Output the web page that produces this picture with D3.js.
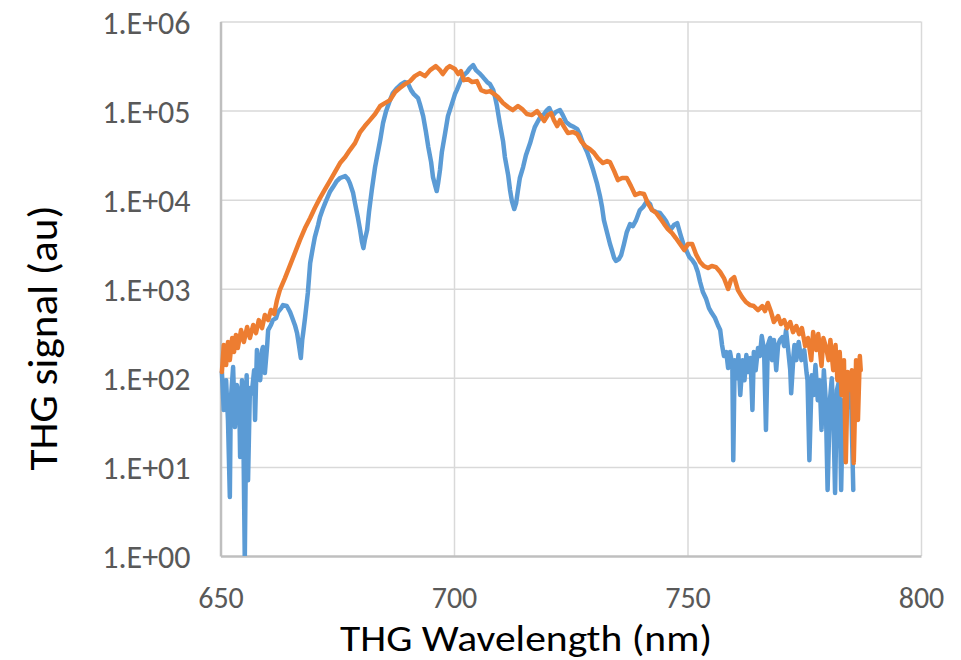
<!DOCTYPE html>
<html>
<head>
<meta charset="utf-8">
<script src="https://cdn.jsdelivr.net/npm/d3@7/dist/d3.min.js"></script>
<style>
  body { margin: 0; background: #fff; }
  svg text { font-family: Carlito, Calibri, Lato, sans-serif; }
</style>
</head>
<body>
<svg id="chart"></svg>
<script>
const xTicks = [650, 700, 750, 800];
const yTicks = [1, 10, 100, 1e3, 1e4, 1e5, 1e6];
const yTickLabels = ['1.E+00', '1.E+01', '1.E+02', '1.E+03', '1.E+04', '1.E+05', '1.E+06'];
const xTitle = 'THG Wavelength (nm)';
const yTitle = 'THG signal (au)';

// blue series
const blueWavelength = [
  650.3, 650.7, 651.2, 651.6, 652.0, 652.2, 652.7, 653.1, 653.5, 654.0, 654.2, 654.6, 654.8, 655.2, 655.6, 655.9,
  656.3, 656.7, 657.2, 657.4, 657.8, 658.2, 658.5, 658.9, 659.1, 659.5, 660.0, 660.2, 660.8, 661.2, 661.9, 662.3,
  663.0, 663.4, 664.2, 664.9, 665.3, 666.0, 666.4, 666.8, 667.2, 667.5, 667.7, 668.1, 668.7, 669.2, 669.8, 670.2,
  670.9, 671.3, 671.9, 672.4, 673.4, 674.1, 674.9, 675.6, 676.7, 677.3, 677.7, 678.4, 678.8, 679.4, 679.9, 680.3,
  680.6, 680.9, 681.4, 681.8, 682.4, 683.1, 683.5, 684.2, 684.8, 685.4, 686.3, 686.9, 687.8, 688.7, 689.5, 690.1,
  690.8, 691.4, 692.3, 692.7, 693.4, 694.0, 694.5, 695.1, 695.5, 696.0, 696.3, 696.6, 697.0, 697.4, 698.1, 698.7,
  699.6, 700.2, 700.6, 701.3, 701.9, 702.8, 703.4, 704.1, 704.7, 705.4, 706.2, 707.1, 707.7, 708.4, 708.8, 709.2,
  709.8, 710.5, 710.9, 711.6, 712.0, 712.4, 712.9, 713.3, 713.7, 714.1, 714.8, 715.4, 716.3, 716.9, 717.3, 718.0,
  718.6, 719.3, 719.9, 720.4, 720.8, 721.2, 721.8, 722.7, 723.3, 724.0, 724.8, 725.7, 726.4, 727.0, 727.6, 728.5,
  729.1, 729.8, 730.6, 731.3, 731.7, 732.1, 732.8, 733.4, 733.8, 734.3, 734.7, 735.3, 735.8, 736.4, 737.0, 737.7,
  738.3, 739.0, 739.8, 740.5, 741.3, 742.0, 742.4, 743.3, 744.1, 744.8, 745.4, 746.3, 747.1, 747.8, 748.4, 749.1,
  749.7, 750.4, 751.0, 751.6, 752.2, 752.7, 753.3, 754.0, 754.6, 755.2, 755.9, 756.5, 757.0, 757.4, 757.8, 758.3,
  758.7, 759.1, 759.6, 759.8, 760.1, 760.5, 760.9, 761.3, 761.8, 762.2, 762.6, 763.1, 763.5, 763.9, 764.2, 764.6,
  765.1, 765.5, 765.9, 766.4, 766.8, 767.2, 767.7, 768.1, 768.5, 769.0, 769.4, 769.8, 770.3, 770.7, 771.1, 771.6,
  772.0, 772.2, 772.7, 772.9, 773.3, 773.8, 774.4, 775.0, 775.5, 775.7, 776.1, 776.6, 777.0, 777.4, 777.9, 778.3,
  778.7, 779.2, 779.6, 780.0, 780.5, 780.9, 781.3, 781.6, 782.0, 782.5, 782.9, 783.3, 783.8, 784.2, 784.6, 785.1,
  785.5
];
const blueSignal = [
  116, 43.5, 94, 33.6, 4.6, 56, 132, 28, 83, 64, 12.9, 94, 67, 0.9, 107, 7.1,
  77, 67, 122, 33.6, 205, 139, 94, 205, 222, 113, 233, 344, 392, 445, 469, 547,
  607, 656, 640, 547, 481, 381, 318, 233, 167, 266, 318, 469, 895, 1940, 2940, 3800,
  5190, 6380, 7850, 9160, 12160, 13840, 16180, 17500, 18400, 17000, 15350, 11860, 9160, 6380, 4560, 3340,
  2860, 3520, 4560, 7260, 12820, 23200, 30070, 46700, 72400, 96200, 131200, 157000, 179000, 198200, 209000, 203700,
  169800, 153200, 138000, 118300, 86700, 57400, 38900, 26400, 17900, 14200, 12500, 15350, 21500, 34200, 55900, 86700,
  121400, 153200, 169800, 209000, 243800, 270500, 299900, 324300, 284700, 263600, 237700, 209000, 198200, 169800, 141800, 112500,
  72400, 45500, 30070, 18900, 12820, 9640, 7850, 9160, 12820, 17500, 23200, 31600, 43170, 55900, 65300, 76300,
  86700, 91400, 101300, 106700, 96200, 89000, 96200, 101300, 89000, 74300, 68700, 65300, 62000, 53100, 43170, 34200,
  27800, 21500, 15350, 10690, 8280, 5900, 4220, 3180, 2720, 2210, 2050, 2150, 2390, 3180, 4330, 5320,
  5050, 5900, 7650, 8280, 9640, 8910, 7650, 7260, 7080, 6380, 5750, 4560, 5190, 5460, 4220, 3180,
  2720, 2270, 2100, 1890, 1540, 1190, 918, 766, 607, 533, 469, 392, 344, 233, 176, 195,
  129, 195, 139, 11.9, 158, 99, 180, 64, 158, 94, 180, 116, 167, 43.5, 195, 122,
  216, 176, 294, 205, 26, 233, 280, 158, 266, 122, 233, 266, 287, 227, 344, 195,
  122, 67, 180, 233, 158, 252, 158, 205, 113, 94, 11.9, 107, 64, 139, 56, 94,
  26, 122, 56, 5.5, 56, 99, 26, 5.1, 73, 94, 5.5, 56, 16.7, 107, 73, 43.5,
  5.5
];

// orange series
const orangeWavelength = [
  650.3, 650.7, 651.2, 651.6, 652.0, 652.5, 652.9, 653.3, 653.7, 654.4, 655.0, 655.7, 656.3, 657.0, 657.6, 658.2,
  658.9, 659.5, 660.2, 660.8, 661.5, 662.1, 662.7, 663.8, 664.9, 666.0, 667.0, 668.1, 669.2, 670.2, 671.3, 672.4,
  673.4, 674.5, 675.6, 676.7, 677.7, 678.8, 679.9, 680.9, 682.0, 683.1, 684.2, 685.2, 686.3, 687.4, 688.4, 689.5,
  690.6, 691.6, 692.7, 693.8, 694.9, 696.1, 697.0, 697.6, 698.5, 699.1, 700.2, 700.9, 701.5, 702.1, 703.0, 703.9,
  704.9, 705.8, 706.9, 707.7, 708.6, 709.4, 710.5, 711.6, 712.6, 713.7, 714.6, 715.6, 716.7, 717.8, 718.6, 719.3,
  720.1, 720.8, 721.4, 722.1, 722.7, 723.6, 724.4, 725.5, 726.4, 727.2, 728.1, 729.1, 730.0, 730.8, 731.9, 732.8,
  733.4, 734.3, 735.1, 736.0, 737.0, 737.9, 738.8, 739.8, 740.7, 741.5, 742.4, 743.3, 744.1, 745.0, 745.8, 746.7,
  747.5, 748.4, 749.3, 750.1, 751.0, 751.8, 752.7, 753.5, 754.4, 755.2, 756.1, 757.0, 757.8, 758.7, 759.3, 760.0,
  760.8, 761.7, 762.5, 763.4, 764.2, 765.1, 766.0, 766.6, 767.2, 767.9, 768.5, 769.4, 770.0, 770.7, 771.3, 772.0,
  772.6, 773.3, 773.9, 774.5, 775.2, 775.8, 776.5, 776.9, 777.6, 778.0, 778.7, 779.1, 779.7, 780.2, 780.6, 781.2,
  781.7, 782.1, 782.6, 783.0, 783.5, 783.9, 784.3, 784.8, 785.2, 785.6, 786.1, 786.5, 786.9, 787.1
];
const orangeSignal = [
  116, 233, 139, 252, 158, 280, 195, 302, 216, 344, 252, 372, 280, 392, 318, 445,
  362, 507, 445, 577, 520, 747, 966, 1318, 1845, 2580, 3520, 4800, 6220, 8050, 10400, 13150,
  16180, 20400, 25760, 30070, 36060, 43170, 57400, 67000, 78200, 91400, 112500, 121400, 131200, 161400, 179000, 198200,
  214300, 243800, 263600, 243800, 284700, 315600, 284700, 257000, 299900, 315600, 292400, 257000, 277300, 219800, 225800, 209000,
  214300, 169800, 161400, 165600, 153200, 141800, 121400, 109400, 101300, 112500, 104000, 91400, 89000, 98600, 86700, 76300,
  89000, 93800, 78200, 67000, 78200, 65300, 55900, 57400, 54400, 45500, 40000, 37000, 33400, 29300, 25760, 27100,
  26400, 20900, 16600, 17500, 17500, 14200, 11270, 11860, 11560, 9160, 7650, 7080, 6220, 5320, 4680, 4220,
  3710, 3180, 2720, 3180, 3180, 2450, 1995, 1800, 1710, 1800, 1750, 1540, 1318, 993, 1253, 1352,
  966, 807, 710, 656, 640, 577, 640, 562, 692, 547, 423, 494, 402, 445, 362, 423,
  326, 381, 310, 362, 227, 280, 158, 326, 205, 310, 136, 280, 216, 158, 266, 122,
  233, 94, 195, 64, 158, 11.3, 116, 73, 122, 11.1, 158, 33.6, 176, 122
];

const width = 961;
const height = 660;
const margin = { top: 21.5, right: 40, bottom: 104, left: 220.5 };
const w = width - margin.left - margin.right;
const h = height - margin.top - margin.bottom;

const svg = d3.select('#chart')
  .attr('width', width)
  .attr('height', height);

const g = svg.append('g')
  .attr('transform', `translate(${margin.left},${margin.top})`);

const x = d3.scaleLinear()
  .domain([650, 800])
  .range([0, w]);

const y = d3.scaleLog()
  .domain([1, 1e6])
  .range([h, 0]);

// gridlines
g.append('g')
  .attr('class', 'grid')
  .call(d3.axisLeft(y).tickValues(yTicks.slice(1)).tickSize(-w).tickFormat(''))
  .call(a => a.select('.domain').remove())
  .selectAll('line')
  .attr('stroke', '#d9d9d9')
  .attr('stroke-width', 1.5);

g.append('g')
  .attr('class', 'grid')
  .attr('transform', `translate(0,${h})`)
  .call(d3.axisBottom(x).tickValues(xTicks.slice(1)).tickSize(-h).tickFormat(''))
  .call(a => a.select('.domain').remove())
  .selectAll('line')
  .attr('stroke', '#d9d9d9')
  .attr('stroke-width', 1.5);

// axes
const xAxis = g.append('g')
  .attr('transform', `translate(0,${h})`)
  .call(d3.axisBottom(x).tickValues(xTicks).tickSize(0).tickFormat(d3.format('d')));
xAxis.select('.domain').attr('stroke', '#bfbfbf').attr('stroke-width', 2.5);
xAxis.selectAll('text')
  .attr('y', 52)
  .attr('dy', 0)
  .attr('fill', '#595959')
  .style('font-size', '30px');

const yAxis = g.append('g')
  .call(d3.axisLeft(y).tickValues(yTicks).tickSize(0).tickFormat((d, i) => yTickLabels[i]));
yAxis.select('.domain').attr('stroke', '#bfbfbf').attr('stroke-width', 2.5);
yAxis.selectAll('text')
  .attr('x', -30)
  .attr('dy', '0.36em')
  .attr('fill', '#595959')
  .style('font-size', '32px');

// series
g.append('clipPath')
  .attr('id', 'plot-clip')
  .append('rect')
  .attr('x', -2)
  .attr('y', -2)
  .attr('width', w + 4)
  .attr('height', h + 2);

const line = d3.line()
  .x(d => x(d[0]))
  .y(d => y(d[1]));

const series = [
  { wl: blueWavelength, sig: blueSignal, color: '#5b9bd5' },
  { wl: orangeWavelength, sig: orangeSignal, color: '#ed7d31' }
];

series.forEach(s => {
  g.append('path')
    .datum(s.wl.map((v, i) => [v, s.sig[i]]))
    .attr('clip-path', 'url(#plot-clip)')
    .attr('fill', 'none')
    .attr('stroke', s.color)
    .attr('stroke-width', 4.5)
    .attr('stroke-linejoin', 'round')
    .attr('stroke-linecap', 'round')
    .attr('d', line);
});

// titles
svg.append('text')
  .attr('x', 526)
  .attr('y', 651)
  .attr('text-anchor', 'middle')
  .attr('fill', '#000')
  .attr('textLength', 372)
  .attr('lengthAdjust', 'spacingAndGlyphs')
  .style('font-size', '36px')
  .text(xTitle);

svg.append('text')
  .attr('transform', 'translate(57,338) rotate(-90)')
  .attr('text-anchor', 'middle')
  .attr('fill', '#000')
  .attr('textLength', 265)
  .attr('lengthAdjust', 'spacingAndGlyphs')
  .style('font-size', '40px')
  .text(yTitle);
</script>
</body>
</html>
